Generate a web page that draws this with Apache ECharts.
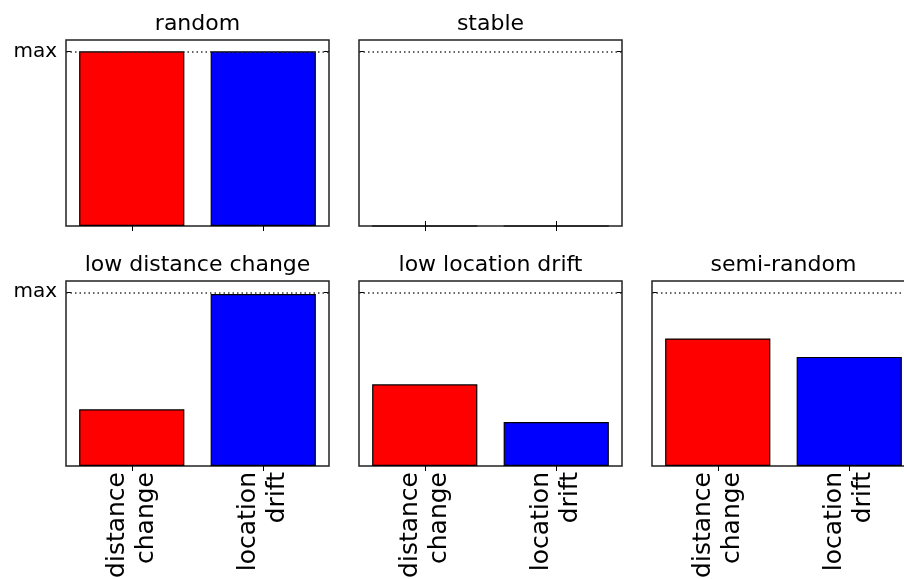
<!DOCTYPE html>
<html>
<head>
<meta charset="utf-8">
<script src="https://cdn.jsdelivr.net/npm/echarts@6/dist/echarts.min.js"></script>
<style>html,body{margin:0;padding:0;background:#fff;}#c{width:904px;height:579px;}</style>
</head>
<body>
<div id="c"></div>
<script>
// ---- data ----
const categories = ['distance\nchange', 'location\ndrift'];
const panelTitles = ['random', 'stable', 'low distance change', 'low location drift', 'semi-random'];
const distanceChange = [1, 0, 0.326, 0.47, 0.734];
const locationDrift = [1, 0, 0.99, 0.253, 0.628];
const maxValue = 1;
const yTickLabels = ['max'];
const barColors = ['#ff0000', '#0000ff'];

// ---- layout ----
const FONT = 'DejaVu Sans';
const panels = [
  {left: 66, top: 40, h: 186, yLabel: true, xLabel: false},
  {left: 359, top: 40, h: 186, yLabel: false, xLabel: false},
  {left: 66, top: 281, h: 185, yLabel: true, xLabel: true},
  {left: 359, top: 281, h: 185, yLabel: false, xLabel: true},
  {left: 652, top: 281, h: 185, yLabel: false, xLabel: true}
];
const W = 263;
const YMAX = 1.065;

const grid = [], xAxis = [], yAxis = [], series = [], title = [];
panels.forEach((p, i) => {
  grid.push({left: p.left, top: p.top, width: W, height: p.h, show: true,
    borderColor: '#222', borderWidth: 1.5, backgroundColor: 'transparent', containLabel: false,
    outerBoundsMode: 'none'});
  title.push({text: panelTitles[i], left: p.left + W / 2, top: p.top - 27, textAlign: 'center', padding: 0,
    textStyle: {fontFamily: FONT, fontSize: 22, fontWeight: 'normal', color: '#000'}});
  const tick = {show: true, inside: true, alignWithLabel: true, length: 5, lineStyle: {color: '#000', width: 1}};
  xAxis.push({type: 'category', gridIndex: i, data: categories, position: 'bottom',
    axisLine: {show: false}, axisTick: tick,
    axisLabel: {show: p.xLabel, rotate: 90, interval: 0, margin: 6, fontFamily: FONT, fontSize: 25,
      lineHeight: 29, color: '#000'}});
  xAxis.push({type: 'category', gridIndex: i, data: categories, position: 'top',
    axisLine: {show: false}, axisTick: tick, axisLabel: {show: false}});
  const ytick = {show: true, inside: true, length: 5, customValues: [maxValue], lineStyle: {color: '#000', width: 1}};
  yAxis.push({type: 'value', gridIndex: i, min: 0, max: YMAX, position: 'left',
    splitLine: {show: false}, axisLine: {show: false}, axisTick: ytick,
    axisLabel: {show: p.yLabel, customValues: [maxValue], formatter: () => yTickLabels[0], margin: 9,
      fontFamily: FONT, fontSize: 20, color: '#000'}});
  yAxis.push({type: 'value', gridIndex: i, min: 0, max: YMAX, position: 'right',
    splitLine: {show: false}, axisLine: {show: false}, axisTick: ytick, axisLabel: {show: false}});
  series.push({type: 'bar', xAxisIndex: 2 * i, yAxisIndex: 2 * i, barWidth: '80%',
    data: [distanceChange[i], locationDrift[i]].map((v, k) => ({value: v,
      itemStyle: {color: barColors[k], borderColor: '#000', borderWidth: 1.2}})),
    markLine: {silent: true, symbol: ['none', 'none'], label: {show: false},
      lineStyle: {type: [1.5, 3], color: '#333', width: 1.5}, data: [{yAxis: maxValue}]}});
});

const chart = echarts.init(document.getElementById('c'), null, {renderer: 'canvas'});
chart.setOption({animation: false, backgroundColor: '#fff', title, grid, xAxis, yAxis, series});
</script>
</body>
</html>
